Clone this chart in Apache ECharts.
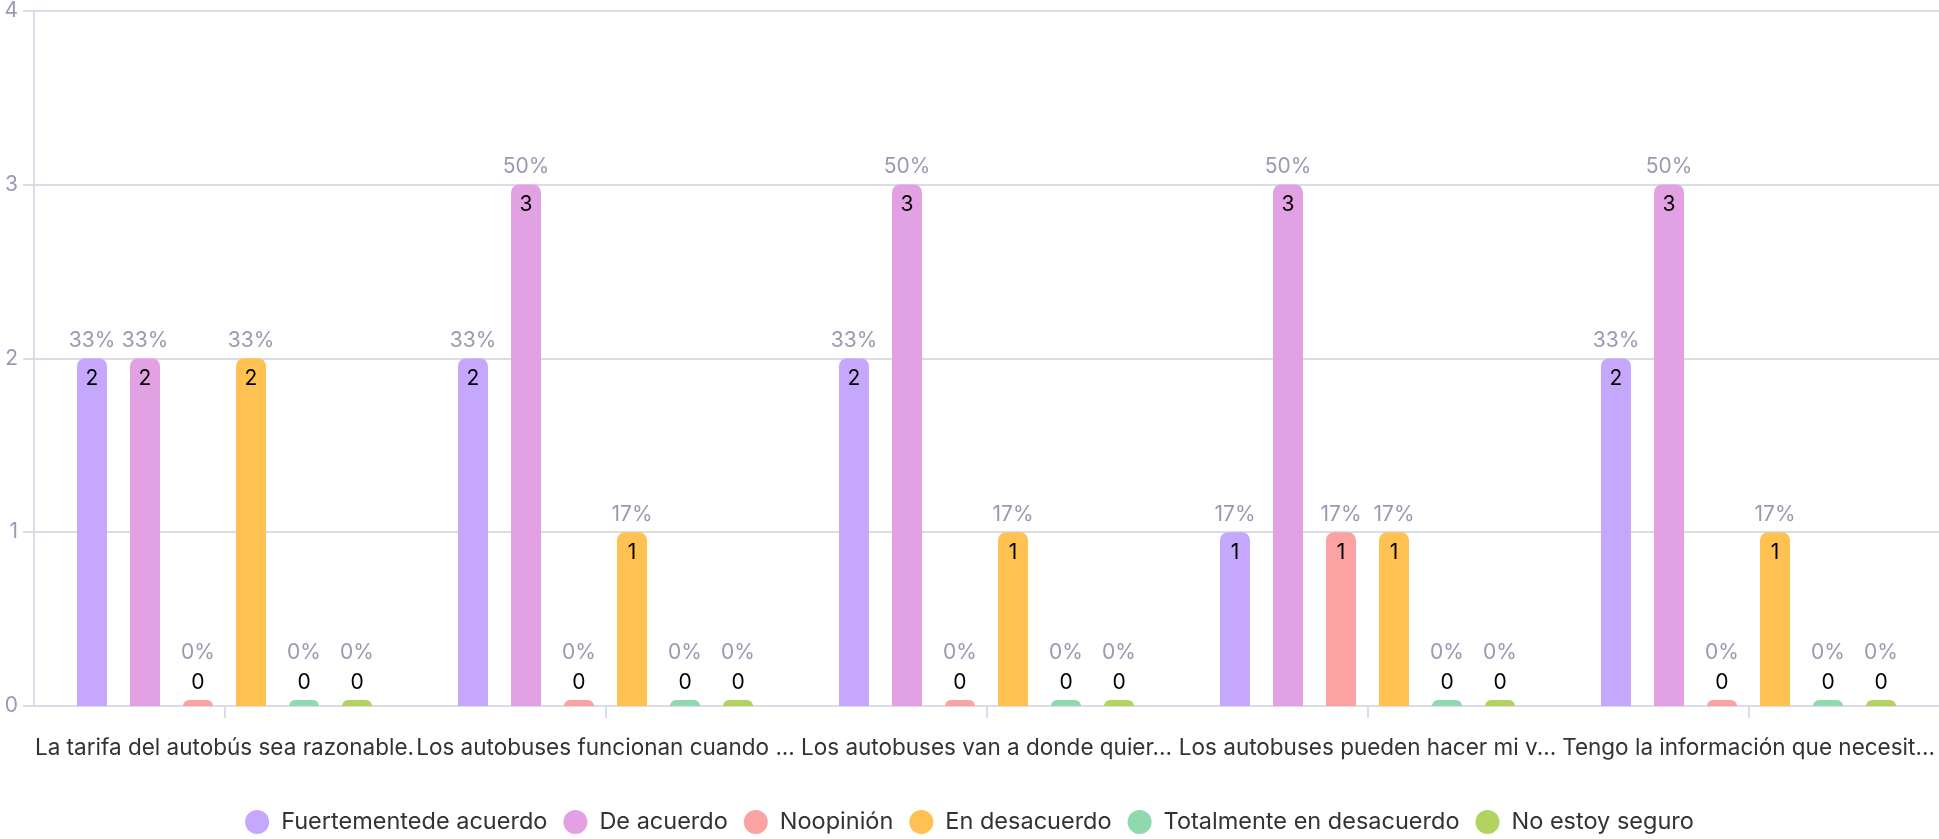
<!DOCTYPE html>
<html>
<head>
<meta charset="utf-8">
<script src="https://cdn.jsdelivr.net/npm/echarts@6/dist/echarts.min.js"></script>
<style>
  html, body { margin: 0; padding: 0; background: #ffffff; }
  #chart { width: 1939px; height: 839px; }
</style>
</head>
<body>
<div id="chart"></div>
<script>
// Survey statements (axis labels as shown, shortened)
const categories = [
  'La tarifa del autobús sea razonable.',
  'Los autobuses funcionan cuando ...',
  'Los autobuses van a donde quier...',
  'Los autobuses pueden hacer mi v...',
  'Tengo la información que necesit...'
];

// Answer options
const seriesNames = [
  'Fuertementede acuerdo',
  'De acuerdo',
  'Noopinión',
  'En desacuerdo',
  'Totalmente en desacuerdo',
  'No estoy seguro'
];

// Response counts per answer option, one value per statement
const fuertementeDeAcuerdo = [2, 2, 2, 1, 2];
const deAcuerdo = [2, 3, 3, 3, 3];
const noOpinion = [0, 0, 0, 1, 0];
const enDesacuerdo = [2, 1, 1, 1, 1];
const totalmenteEnDesacuerdo = [0, 0, 0, 0, 0];
const noEstoySeguro = [0, 0, 0, 0, 0];

const yTicks = [0, 1, 2, 3, 4];

const seriesValues = [
  fuertementeDeAcuerdo, deAcuerdo, noOpinion,
  enDesacuerdo, totalmenteEnDesacuerdo, noEstoySeguro
];
const colors = ['#c5a8fd', '#e2a1e3', '#fba3a2', '#ffc151', '#90d8ad', '#b2d35f'];

const FONT = 'Inter, "Noto Sans", sans-serif';
const LABEL_SIZE = 21;
const TEXT_SIZE = 22.5;
const LEGEND_SIZE = 23.5;

// Total responses per statement, used for the percentage labels
const totals = categories.map((_, i) =>
  seriesValues.reduce((s, arr) => s + arr[i], 0));

function itemFor(v, i) {
  const pct = totals[i] ? Math.round(v / totals[i] * 100) : 0;
  const nonZero = v > 0;
  return {
    value: v,
    label: {
      // non-zero: percentage above the bar, count inside its top;
      // zero: both stacked above the stub
      offset: nonZero ? [0, 39] : [0, -2],
      formatter: nonZero ? '{p|' + pct + '%}\n{v|' + v + '}' : '{pz|' + pct + '%}\n{vz|' + v + '}'
    }
  };
}

const series = seriesNames.map((name, s) => ({
  name: name,
  type: 'bar',
  barWidth: 30,
  barGap: '76.7%',
  barMinHeight: 6,
  itemStyle: { color: colors[s], borderRadius: [8, 8, 0, 0] },
  label: {
    show: true,
    position: 'top',
    distance: 0,
    fontFamily: FONT,
    rich: {
      p:  { fontFamily: FONT, fontSize: LABEL_SIZE, color: '#9a99b3', lineHeight: 37.5, height: 37.5 },
      v:  { fontFamily: FONT, fontSize: LABEL_SIZE, color: '#000000', lineHeight: 37.5, height: 37.5 },
      pz: { fontFamily: FONT, fontSize: LABEL_SIZE, color: '#9a99b3', lineHeight: 30, height: 30 },
      vz: { fontFamily: FONT, fontSize: LABEL_SIZE, color: '#000000', lineHeight: 30, height: 30 }
    }
  },
  emphasis: { disabled: true },
  data: seriesValues[s].map(itemFor)
}));

const chart = echarts.init(document.getElementById('chart'), null, { renderer: 'canvas' });
chart.setOption({
  animation: false,
  backgroundColor: '#ffffff',
  textStyle: { fontFamily: FONT },
  color: colors,
  grid: { left: 34, top: 9, width: 1908, bottom: 133, containLabel: false },
  legend: {
    data: seriesNames,
    left: 'center',
    top: 810,
    padding: 0,
    icon: 'circle',
    itemWidth: 38,
    itemHeight: 24,
    itemGap: 16,
    textStyle: { fontFamily: FONT, fontSize: LEGEND_SIZE, color: '#333333' }
  },
  xAxis: {
    type: 'category',
    data: categories,
    axisLine: { lineStyle: { color: '#dcdce8', width: 2 } },
    axisTick: { show: true, alignWithLabel: true, length: 12, lineStyle: { color: '#dcdce8', width: 2 } },
    axisLabel: {
      interval: 0, margin: 31, hideOverlap: false,
      width: 600, overflow: 'none',
      fontFamily: FONT, fontSize: TEXT_SIZE, color: '#333333'
    }
  },
  yAxis: {
    type: 'value',
    min: yTicks[0],
    max: yTicks[yTicks.length - 1],
    interval: 1,
    axisLine: { show: true, lineStyle: { color: '#dcdce8', width: 2 } },
    axisTick: { show: true, length: 11, lineStyle: { color: '#dcdce8', width: 2 } },
    axisLabel: { margin: 16, fontFamily: FONT, fontSize: LABEL_SIZE, color: '#9a99b3' },
    splitLine: { lineStyle: { color: '#dcdce8', width: 2 } }
  },
  series: series
});
</script>
</body>
</html>
